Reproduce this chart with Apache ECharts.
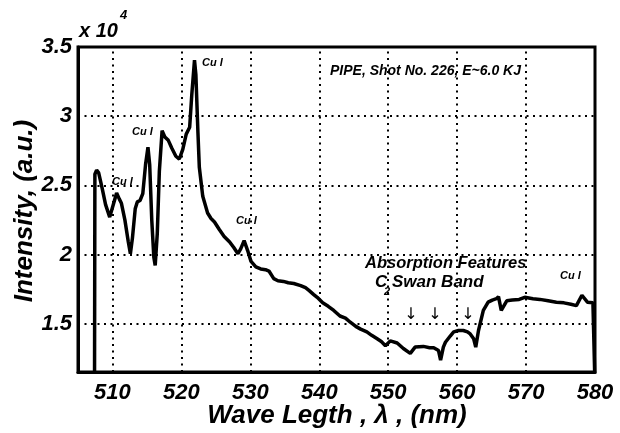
<!DOCTYPE html>
<html><head><meta charset="utf-8">
<script src="https://cdn.jsdelivr.net/npm/echarts@6/dist/echarts.min.js"></script>
<style>html,body{margin:0;padding:0;background:#fff}#c{width:620px;height:433px}</style>
</head><body><div id="c"></div>
<script>
const wavelength = [507.40,507.45,507.70,508.00,508.50,509.00,509.60,510.00,510.60,511.00,511.30,511.80,512.30,512.60,512.90,513.30,513.60,514.00,514.40,514.80,515.15,515.40,515.70,516.00,516.20,516.50,516.80,517.20,517.60,518.10,518.60,519.20,519.70,520.20,520.70,521.20,521.50,521.90,522.10,522.40,522.60,523.10,523.80,524.30,524.80,525.50,526.20,527.00,527.60,528.20,528.60,529.10,529.60,530.10,530.80,531.50,532.20,532.70,533.40,534.00,534.80,535.50,536.30,537.30,538.00,538.50,539.20,539.70,540.50,541.30,542.10,543.00,543.80,544.50,545.30,546.00,546.90,547.60,548.40,549.00,549.60,550.30,551.30,552.20,553.20,553.90,555.10,556.00,556.60,557.30,557.60,558.00,558.30,559.00,559.50,560.20,560.90,561.50,561.90,562.40,562.70,563.10,563.80,564.50,565.10,565.70,566.00,566.40,566.80,567.20,568.00,569.00,569.80,571.00,572.00,573.20,574.40,575.50,576.50,577.30,578.10,578.90,579.70,579.90,579.95];
const intensity = [11500,25800,26100,25900,24800,23600,22700,23400,24450,24000,23700,22500,20900,20050,21200,23300,23800,23900,24400,26500,27750,26500,22500,19800,19200,21500,26000,28950,28500,28250,27700,27100,26900,27600,28700,29200,31500,34050,33000,28800,26300,24200,23000,22600,22350,21800,21300,20900,20500,20050,20400,21000,20300,19500,19100,18950,18900,18800,18250,18100,18050,17950,17900,17750,17600,17400,17100,16900,16500,16250,15950,15550,15400,15100,14800,14600,14400,14150,13900,13700,13400,13750,13600,13200,12850,13300,13350,13250,13250,13050,12350,13300,13650,14100,14400,14500,14500,14400,14250,13900,13300,14500,15950,16550,16700,16800,16950,15950,16300,16650,16700,16750,16900,16800,16750,16650,16550,16500,16400,16300,17050,16550,16500,16450,11500];
const xTicks = [510,520,530,540,550,560,570,580];
const yTicks = [15000,20000,25000,30000,35000];
const peakLabels = ['Cu I','Cu I','Cu I','Cu I','Cu I'];
const titleText = 'PIPE, Shot No. 226, E~6.0 KJ';

const FF = 'Liberation Sans, Arial, sans-serif';
const txt = (x, y, s, size, extra) => Object.assign({
  type: 'text', x: x, y: y, silent: true,
  style: Object.assign({ text: s, fontFamily: FF, fontSize: size, fontWeight: 'bold', fontStyle: 'italic',
    fill: '#000', textAlign: 'left', textVerticalAlign: 'middle' }, extra || {})
});
const arrowStyle = { fontFamily: 'DejaVu Sans', fontWeight: 'normal', fontStyle: 'normal', textAlign: 'center' };

const chart = echarts.init(document.getElementById('c'), null, { renderer: 'canvas' });
const data = wavelength.map((w, i) => [w, intensity[i]]);
const gridMarks = xTicks.filter(v => v < 580).map(v => ({ xAxis: v }))
  .concat(yTicks.filter(v => v < 35000).map(v => ({ yAxis: v })));

chart.setOption({
  animation: false,
  backgroundColor: '#fff',
  grid: { left: 78, top: 47, right: 25, bottom: 61, show: true, borderColor: '#000', borderWidth: 3, backgroundColor: 'transparent' },
  xAxis: {
    type: 'value', min: 505, max: 580, interval: 5,
    axisLine: { show: true, lineStyle: { color: '#000', width: 3 } },
    axisTick: { show: false }, splitLine: { show: false },
    axisLabel: { margin: 10, color: '#000', fontFamily: FF, fontSize: 22, fontWeight: 'bold', fontStyle: 'italic',
      formatter: v => xTicks.includes(v) ? String(v) : '' }
  },
  yAxis: {
    type: 'value', min: 11500, max: 35000, interval: 500,
    axisLine: { show: true, lineStyle: { color: '#000', width: 3 } },
    axisTick: { show: false }, splitLine: { show: false },
    axisLabel: { margin: 6, color: '#000', fontFamily: FF, fontSize: 22, fontWeight: 'bold', fontStyle: 'italic',
      formatter: v => yTicks.includes(v) ? String(v / 10000) : '' }
  },
  series: [{
    type: 'line', data: data, showSymbol: false, clip: true,
    lineStyle: { color: '#000', width: 3.5 },
    markLine: {
      silent: true, symbol: ['none', 'none'], label: { show: false },
      lineStyle: { color: '#000', type: [2, 4.5], width: 2 },
      emphasis: { disabled: true },
      data: gridMarks
    }
  }],
  graphic: [
    txt(79, 31, 'x 10', 20),
    txt(120, 15, '4', 13),
    txt(112, 182, peakLabels[0], 11),
    txt(132, 132, peakLabels[1], 11),
    txt(202, 63, peakLabels[2], 11),
    txt(236, 221, peakLabels[3], 11),
    txt(560, 276, peakLabels[4], 11),
    txt(330, 71, titleText, 14),
    txt(365, 263, 'Absorption Features', 16.5),
    txt(375, 282, 'C', 17),
    txt(384, 292, '2', 11),
    txt(392, 282, 'Swan Band', 17),
    txt(411, 315, '\u2193', 16, arrowStyle),
    txt(435, 315, '\u2193', 16, arrowStyle),
    txt(468, 315, '\u2193', 16, arrowStyle),
    txt(337, 416, 'Wave Legth , \u03bb , (nm)', 26, { textAlign: 'center' }),
    { type: 'text', x: 25, y: 211, rotation: Math.PI / 2, silent: true,
      style: { text: 'Intensity, (a.u.)', fontFamily: FF, fontSize: 26, fontWeight: 'bold', fontStyle: 'italic',
        fill: '#000', textAlign: 'center', textVerticalAlign: 'middle' } }
  ]
});
</script></body></html>
